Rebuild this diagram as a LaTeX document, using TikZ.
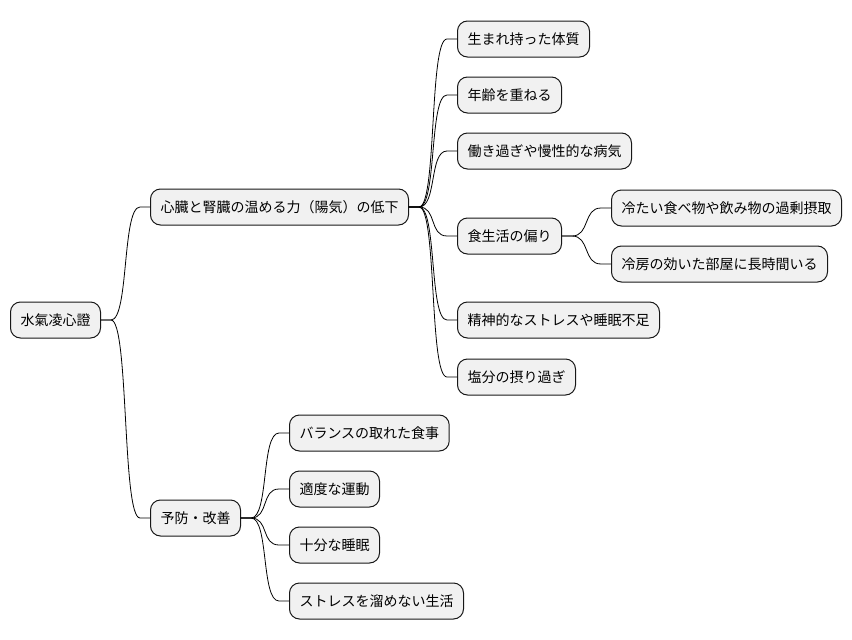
\documentclass[tikz,border=0pt]{standalone}
\usepackage{fontspec}
\newfontfamily\jpfont{Noto Sans CJK JP}
\usepackage{tikz}
\usetikzlibrary{arrows.meta}
\definecolor{boxfill}{HTML}{F1F1F1}
\definecolor{boxline}{HTML}{181818}
\tikzset{
  every picture/.style={line join=round, line cap=round, >=Stealth},
  topic/.style={draw=boxline, fill=boxfill, line width=1pt, rounded corners=10pt,
    anchor=west, minimum height=36pt, inner xsep=10pt, inner ysep=0pt,
    font=\jpfont\fontsize{14}{16}\selectfont},
  branch/.style={line width=0.8pt, to path={-- ++(10,0) .. controls +(18,0) and +(-18,0) .. ([xshift=-10pt]\tikztotarget.west) -- (\tikztotarget.west)}},
}

\begin{document}
\begin{tikzpicture}[x=1pt,y=-1pt]
\useasboundingbox (0,0) rectangle (852,640);
\node[topic] (root) at (10,320) {水氣凌心證};
\node[topic] (cause) at (150,207) {心臓と腎臓の温める力（陽気）の低下};
\node[topic] (care) at (150,518) {予防・改善};
\node[topic] (c1) at (457,39) {生まれ持った体質};
\node[topic] (c2) at (457,95) {年齢を重ねる};
\node[topic] (c3) at (457,151) {働き過ぎや慢性的な病気};
\node[topic] (c4) at (457,236) {食生活の偏り};
\node[topic] (c5) at (457,320) {精神的なストレスや睡眠不足};
\node[topic] (c6) at (457,377) {塩分の摂り過ぎ};
\node[topic] (d1) at (611,208) {冷たい食べ物や飲み物の過剰摂取};
\node[topic] (d2) at (611,264) {冷房の効いた部屋に長時間いる};
\node[topic] (p1) at (289,433) {バランスの取れた食事};
\node[topic] (p2) at (289,489) {適度な運動};
\node[topic] (p3) at (289,545) {十分な睡眠};
\node[topic] (p4) at (289,601) {ストレスを溜めない生活};
\foreach \t in {cause,care} \draw[branch] (root.east) to (\t);
\foreach \t in {c1,c2,c3,c4,c5,c6} \draw[branch] (cause.east) to (\t);
\foreach \t in {d1,d2} \draw[branch] (c4.east) to (\t);
\foreach \t in {p1,p2,p3,p4} \draw[branch] (care.east) to (\t);
\end{tikzpicture}
\end{document}
